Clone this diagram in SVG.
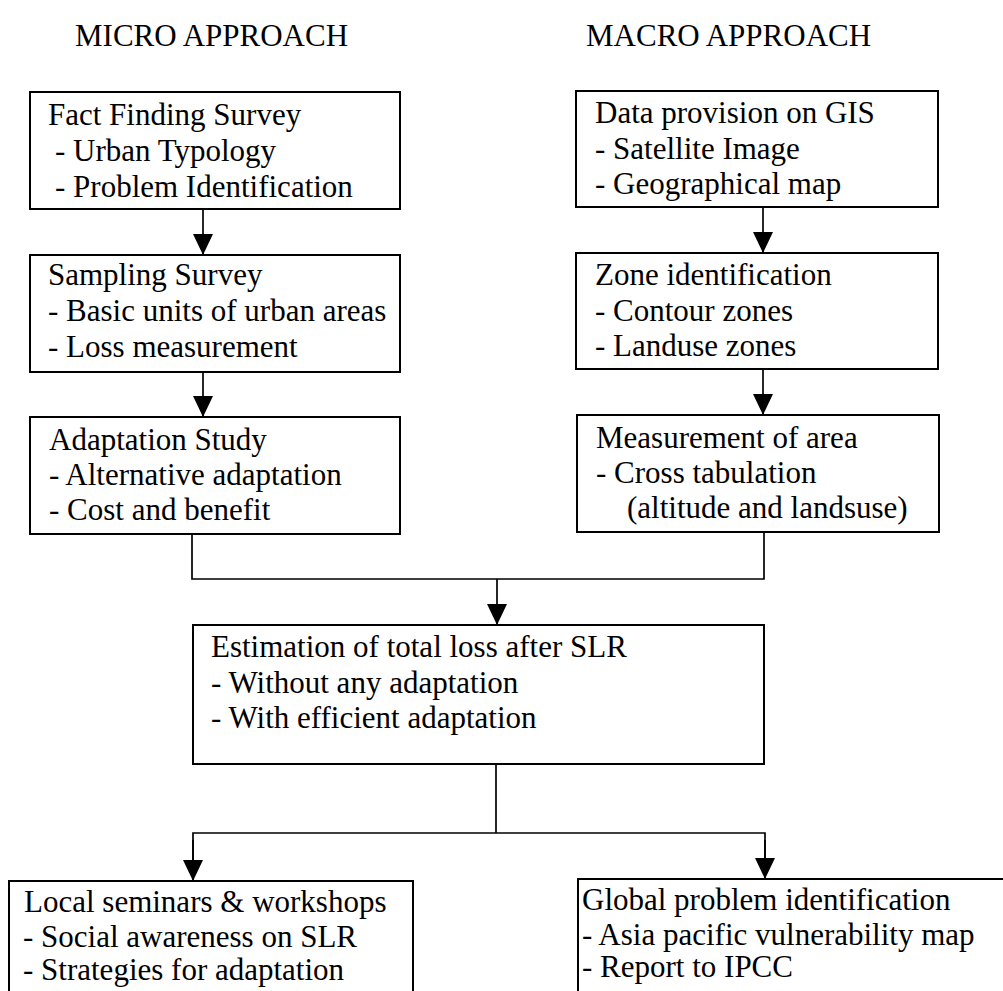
<svg xmlns="http://www.w3.org/2000/svg" width="1003" height="991" viewBox="0 0 1003 991">
<style>
  .box { fill: #fff; stroke: #000; stroke-width: 2; }
  .t { font-family: "Liberation Serif", "Times New Roman", serif; font-size: 31px; fill: #000; }
  .c { fill: none; stroke: #000; stroke-width: 1.7; }
</style>
<defs>
  <marker id="arr" markerUnits="userSpaceOnUse" markerWidth="22" markerHeight="22" refX="21" refY="10" orient="auto">
    <path d="M0,0 L21,10 L0,20 Z" fill="#000"/>
  </marker>
</defs>
<rect width="1003" height="991" fill="#fff"/>

<text class="t" x="75" y="46">MICRO APPROACH</text>
<text class="t" x="586" y="46">MACRO APPROACH</text>

<g id="connectors">
  <line class="c" x1="203" y1="209" x2="203" y2="255" marker-end="url(#arr)"/>
  <line class="c" x1="203" y1="372" x2="203" y2="417" marker-end="url(#arr)"/>
  <line class="c" x1="763" y1="207" x2="763" y2="253" marker-end="url(#arr)"/>
  <line class="c" x1="763" y1="369" x2="763" y2="415" marker-end="url(#arr)"/>
  <polyline class="c" points="192,534 192,579 764,579 764,532"/>
  <line class="c" x1="497" y1="579" x2="497" y2="625" marker-end="url(#arr)"/>
  <line class="c" x1="496" y1="764" x2="496" y2="833"/>
  <polyline class="c" points="193,860 193,833 765,833 765,860" />
  <line class="c" x1="193" y1="840" x2="193" y2="881" marker-end="url(#arr)"/>
  <line class="c" x1="765" y1="840" x2="765" y2="879" marker-end="url(#arr)"/>
</g>

<g id="fact-finding">
  <rect class="box" x="30" y="92" width="370" height="117"/>
  <text class="t" x="48" y="125">Fact Finding Survey</text>
  <text class="t" x="55" y="161">- Urban Typology</text>
  <text class="t" x="55" y="197">- Problem Identification</text>
</g>

<g id="sampling">
  <rect class="box" x="30" y="255" width="370" height="117"/>
  <text class="t" x="48" y="285">Sampling Survey</text>
  <text class="t" x="48" y="321">- Basic units of urban areas</text>
  <text class="t" x="48" y="357">- Loss measurement</text>
</g>

<g id="adaptation">
  <rect class="box" x="30" y="417" width="370" height="117"/>
  <text class="t" x="49" y="450">Adaptation Study</text>
  <text class="t" x="49" y="485">- Alternative adaptation</text>
  <text class="t" x="49" y="520">- Cost and benefit</text>
</g>

<g id="data-provision">
  <rect class="box" x="576" y="91" width="362" height="116"/>
  <text class="t" x="595" y="123">Data provision on GIS</text>
  <text class="t" x="595" y="159">- Satellite Image</text>
  <text class="t" x="595" y="194">- Geographical map</text>
</g>

<g id="zone">
  <rect class="box" x="576" y="253" width="362" height="116"/>
  <text class="t" x="595" y="285">Zone identification</text>
  <text class="t" x="595" y="321">- Contour zones</text>
  <text class="t" x="595" y="356">- Landuse zones</text>
</g>

<g id="measurement">
  <rect class="box" x="577" y="415" width="362" height="117"/>
  <text class="t" x="596" y="448">Measurement of area</text>
  <text class="t" x="596" y="483">- Cross tabulation</text>
  <text class="t" x="627" y="518">(altitude and landsuse)</text>
</g>

<g id="estimation">
  <rect class="box" x="193" y="625" width="571" height="139"/>
  <text class="t" x="211" y="657">Estimation of total loss after SLR</text>
  <text class="t" x="211" y="693">- Without any adaptation</text>
  <text class="t" x="211" y="728">- With efficient adaptation</text>
</g>

<g id="local">
  <rect class="box" x="9" y="881" width="404" height="150"/>
  <text class="t" x="24" y="912">Local seminars &amp; workshops</text>
  <text class="t" x="23" y="947">- Social awareness on SLR</text>
  <text class="t" x="23" y="980">- Strategies for adaptation</text>
</g>

<g id="global">
  <rect class="box" x="578" y="879" width="440" height="150"/>
  <text class="t" x="582" y="910">Global problem identification</text>
  <text class="t" x="582" y="945">- Asia pacific vulnerability map</text>
  <text class="t" x="582" y="977">- Report to IPCC</text>
</g>
</svg>
